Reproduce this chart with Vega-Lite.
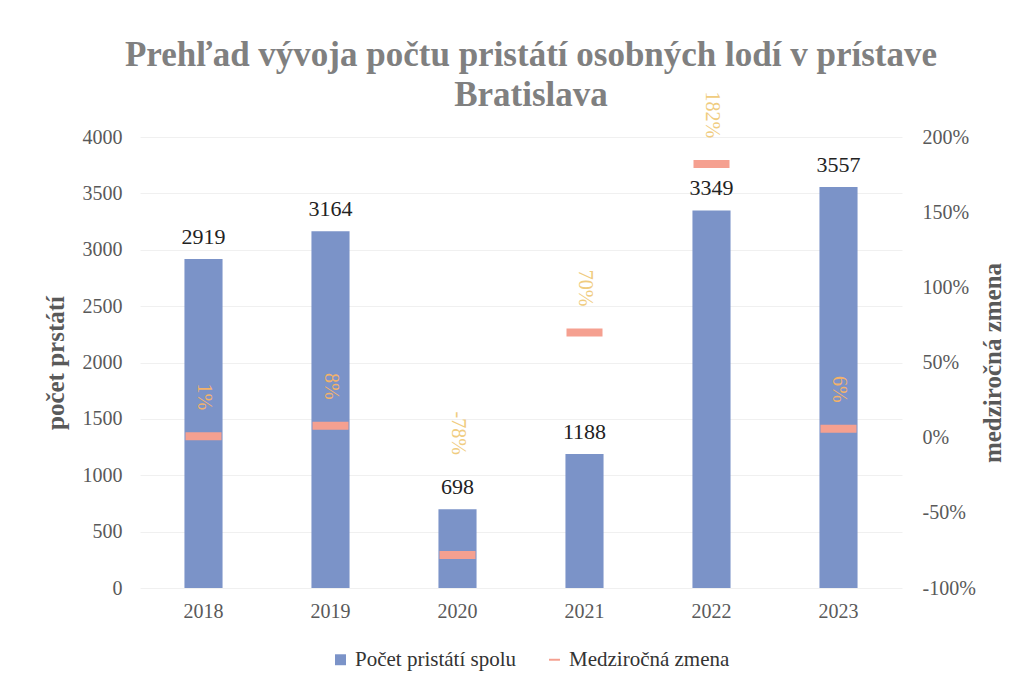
{
  "$schema": "https://vega.github.io/schema/vega-lite/v6.json",
  "width": 762,
  "height": 451,
  "autosize": {"type": "none"},
  "padding": {"left": 140, "top": 137, "right": 129, "bottom": 98},
  "background": "white",
  "config": {
    "view": {"stroke": null},
    "font": "Liberation Serif",
    "axis": {"labelFont": "Liberation Serif", "titleFont": "Liberation Serif"},
    "legend": {"labelFont": "Liberation Serif", "titleFont": "Liberation Serif"}
  },
  "title": {
    "text": ["Prehľad vývoja počtu pristátí osobných lodí v prístave", "Bratislava"],
    "font": "Liberation Serif",
    "fontSize": 35,
    "fontWeight": "bold",
    "color": "#808080",
    "anchor": "middle",
    "lineHeight": 40,
    "offset": -22,
    "dx": 10
  },
  "data": {
    "values": [
      {"rok": "2018", "pocet": 2919, "zmena": 0.01, "zmena_label": "1%"},
      {"rok": "2019", "pocet": 3164, "zmena": 0.08, "zmena_label": "8%"},
      {"rok": "2020", "pocet": 698, "zmena": -0.78, "zmena_label": "-78%"},
      {"rok": "2021", "pocet": 1188, "zmena": 0.70, "zmena_label": "70%"},
      {"rok": "2022", "pocet": 3349, "zmena": 1.82, "zmena_label": "182%"},
      {"rok": "2023", "pocet": 3557, "zmena": 0.06, "zmena_label": "6%"}
    ]
  },
  "encoding": {
    "x": {
      "field": "rok",
      "type": "nominal",
      "scale": {"paddingInner": 0.7, "paddingOuter": 0.35},
      "axis": {
        "title": null,
        "labelAngle": 0,
        "labelFontSize": 20,
        "labelColor": "#595959",
        "labelPadding": 13,
        "ticks": false,
        "domain": false
      }
    }
  },
  "layer": [
    {
      "encoding": {
        "y": {
          "field": "pocet",
          "type": "quantitative",
          "scale": {"domain": [0, 4000]},
          "axis": {
            "title": "počet prstátí",
            "titleFontSize": 25,
            "titleFontWeight": "bold",
            "titleColor": "#595959",
            "titlePadding": 14,
            "labelFontSize": 20,
            "labelColor": "#595959",
            "labelPadding": 18,
            "values": [0, 500, 1000, 1500, 2000, 2500, 3000, 3500, 4000],
            "format": "d",
            "labelOverlap": false,
            "ticks": false,
            "domain": false,
            "grid": true,
            "gridColor": "#f0f0f0"
          }
        }
      },
      "layer": [
        {
          "mark": {"type": "bar", "color": "#7b93c8"},
          "encoding": {
            "color": {
              "datum": "Počet pristátí spolu",
              "type": "nominal",
              "scale": {
                "domain": ["Počet pristátí spolu", "Medziročná zmena"],
                "range": ["#7b93c8", "#f5a090"]
              },
              "legend": {
                "title": null,
                "orient": "none",
                "legendX": 190,
                "legendY": 512,
                "direction": "horizontal",
                "labelFont": "Liberation Serif",
                "labelFontSize": 21,
                "labelColor": "#333333",
                "labelLimit": 400,
                "symbolSize": 120,
                "symbolOpacity": 1,
                "labelOffset": 4,
                "columnPadding": 28,
                "encode": {
                  "symbols": {
                    "update": {
                      "shape": {"signal": "datum.value === 'Medziročná zmena' ? 'M-1,-0.18H1V0.18H-1Z' : 'square'"},
                      "strokeWidth": {"value": 0}
                    }
                  }
                }
              }
            }
          }
        },
        {
          "mark": {"type": "text", "baseline": "bottom", "dy": -10, "fontSize": 22, "color": "#222222", "font": "Liberation Serif"},
          "encoding": {
            "text": {"field": "pocet", "type": "quantitative", "format": "d"}
          }
        }
      ]
    },
    {
      "encoding": {
        "y": {
          "field": "zmena",
          "type": "quantitative",
          "scale": {"domain": [-1, 2]},
          "axis": {
            "orient": "right",
            "title": "medziročná zmena",
            "titleFontSize": 25,
            "titleFontWeight": "bold",
            "titleColor": "#595959",
            "titleAngle": -90,
            "titlePadding": 30,
            "labelFontSize": 20,
            "labelColor": "#595959",
            "labelPadding": 20,
            "values": [-1, -0.5, 0, 0.5, 1, 1.5, 2],
            "labelExpr": "replace(format(datum.value, '.0%'), '−', '-')",
            "labelOverlap": false,
            "ticks": false,
            "domain": false,
            "grid": false
          }
        }
      },
      "layer": [
        {
          "mark": {"type": "tick", "thickness": 8, "size": 36, "opacity": 1},
          "encoding": {
            "color": {"datum": "Medziročná zmena", "type": "nominal"}
          }
        },
        {
          "mark": {"type": "text", "angle": 90, "align": "right", "baseline": "middle", "fontSize": 20, "font": "Liberation Serif", "color": {"expr": "datum.zmena > 0.5 || datum.zmena < 0 ? '#f0cc80' : '#f3b26a'"}, "yOffset": {"expr": "datum.zmena < 0 ? -100 : -26"}},
          "encoding": {
            "text": {"field": "zmena_label", "type": "nominal"}
          }
        }
      ]
    }
  ],
  "resolve": {"scale": {"y": "independent"}}
}
